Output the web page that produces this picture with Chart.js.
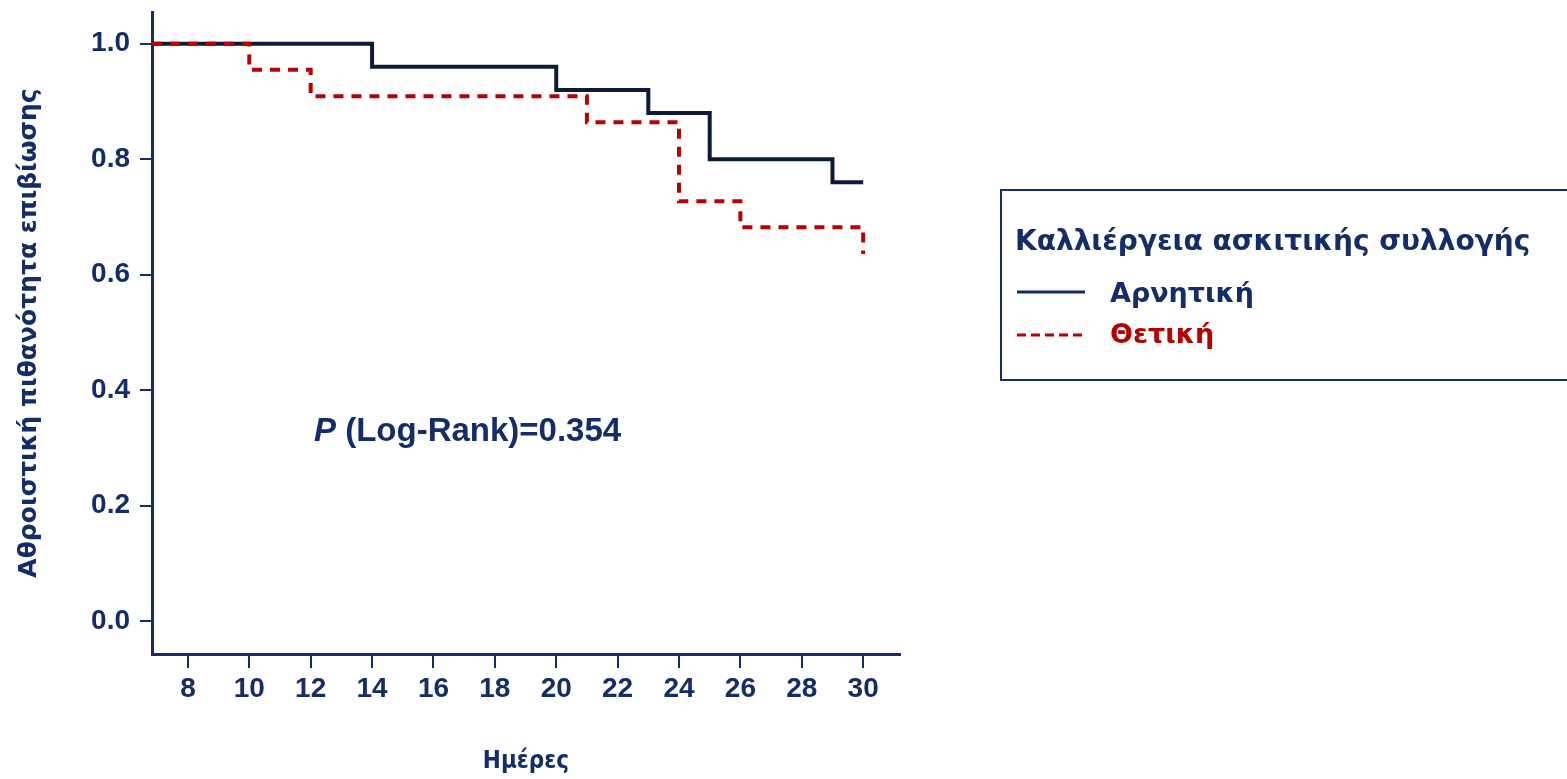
<!DOCTYPE html>
<html>
<head>
<meta charset="utf-8">
<script src="https://cdn.jsdelivr.net/npm/chart.js@4/dist/chart.umd.min.js"></script>
<style>
  html, body { margin: 0; padding: 0; background: #ffffff; }
  #wrap { width: 1567px; height: 779px; }
</style>
</head>
<body>
<div id="wrap"><canvas id="kmChart" width="1567" height="779"></canvas></div>
<script>
// survival step points: [day of event, survival after event]
const negDays = [6.83, 14, 20, 23, 25, 29, 30];
const negSurvival = [1.0, 0.96, 0.92, 0.88, 0.80, 0.76, 0.76];
const posDays = [6.83, 10, 12, 21, 24, 26, 30];
const posSurvival = [1.0, 0.955, 0.909, 0.864, 0.727, 0.682, 0.636];

const seriesLabels = ['Αρνητική', 'Θετική'];
const legendTitle = 'Καλλιέργεια ασκιτικής συλλογής';
const xTitle = 'Ημέρες';
const yTitle = 'Αθροιστική πιθανότητα επιβίωσης';
const pValueText = '(Log-Rank)=0.354';

const navy = '#122d69';
const lineNavy = '#0c1a3c';
const red = '#b80000';

function toPoints(days, vals) {
  return days.map((d, i) => ({ x: d, y: vals[i] }));
}

const annotations = {
  id: 'annotations',
  afterDraw(chart) {
    const ctx = chart.ctx;
    ctx.save();

    // p value text
    ctx.fillStyle = navy;
    ctx.textBaseline = 'middle';
    ctx.font = 'italic bold 33px "Liberation Sans", Arial, sans-serif';
    ctx.fillText('P', 314, 432);
    const pw = ctx.measureText('P ').width;
    ctx.font = 'bold 33px "Liberation Sans", Arial, sans-serif';
    ctx.fillText(pValueText, 314 + pw, 432);

    // legend box
    ctx.strokeStyle = navy;
    ctx.lineWidth = 2;
    ctx.strokeRect(1001, 190, 600, 190);

    ctx.font = 'bold 28px "DejaVu Sans", sans-serif';
    ctx.fillStyle = navy;
    ctx.fillText(legendTitle, 1015, 243);

    ctx.font = 'bold 27px "DejaVu Sans", sans-serif';
    ctx.lineWidth = 3;
    ctx.strokeStyle = navy;
    ctx.beginPath();
    ctx.moveTo(1017, 292);
    ctx.lineTo(1085, 292);
    ctx.stroke();
    ctx.fillText(seriesLabels[0], 1110, 295);

    ctx.strokeStyle = red;
    ctx.setLineDash([9, 5]);
    ctx.beginPath();
    ctx.moveTo(1017, 335);
    ctx.lineTo(1085, 335);
    ctx.stroke();
    ctx.setLineDash([]);
    ctx.fillStyle = red;
    ctx.fillText(seriesLabels[1], 1110, 336);

    ctx.restore();
  }
};

new Chart(document.getElementById('kmChart'), {
  type: 'line',
  data: {
    datasets: [
      {
        label: seriesLabels[0],
        data: toPoints(negDays, negSurvival),
        stepped: 'before',
        borderColor: lineNavy,
        borderWidth: 4,
        pointRadius: 0,
        fill: false,
        order: 1
      },
      {
        label: seriesLabels[1],
        data: toPoints(posDays, posSurvival),
        stepped: 'before',
        borderColor: red,
        borderWidth: 4,
        borderDash: [10, 8],
        pointRadius: 0,
        fill: false,
        order: 0
      }
    ]
  },
  options: {
    responsive: false,
    animation: false,
    layout: { padding: { left: 0, top: 12, right: 667, bottom: 0 } },
    plugins: {
      legend: { display: false },
      tooltip: { enabled: false }
    },
    scales: {
      x: {
        type: 'linear',
        min: 6.83,
        max: 31.2,
        afterFit: (scale) => { scale.height = 125; scale.paddingLeft = 0; scale.paddingRight = 0; },
        border: { display: true, color: navy, width: 3 },
        grid: { drawOnChartArea: false, drawTicks: true, tickLength: 14, color: navy, lineWidth: 2 },
        ticks: {
          stepSize: 2,
          includeBounds: false,
          color: navy,
          padding: 4,
          maxRotation: 0,
          font: { family: '"Liberation Sans", Arial, sans-serif', weight: 'bold', size: 28 }
        },
        title: {
          display: true,
          text: xTitle,
          color: navy,
          padding: { top: 0, bottom: 3 },
          font: { family: '"DejaVu Sans Condensed", "DejaVu Sans", sans-serif', weight: 'bold', size: 24 }
        }
      },
      y: {
        min: -0.057,
        max: 1.055,
        afterFit: (scale) => { scale.width = 152; scale.paddingTop = 0; scale.paddingBottom = 0; },
        border: { display: true, color: navy, width: 3 },
        grid: { drawOnChartArea: false, drawTicks: true, tickLength: 12, color: navy, lineWidth: 2 },
        ticks: {
          stepSize: 0.2,
          includeBounds: false,
          color: navy,
          padding: 10,
          callback: (v) => v.toFixed(1),
          font: { family: '"Liberation Sans", Arial, sans-serif', weight: 'bold', size: 28 }
        },
        title: {
          display: true,
          text: yTitle,
          color: navy,
          padding: { top: 14, bottom: 0 },
          font: { family: '"DejaVu Sans", sans-serif', weight: 'bold', size: 25 }
        }
      }
    }
  },
  plugins: [annotations]
});
</script>
</body>
</html>
